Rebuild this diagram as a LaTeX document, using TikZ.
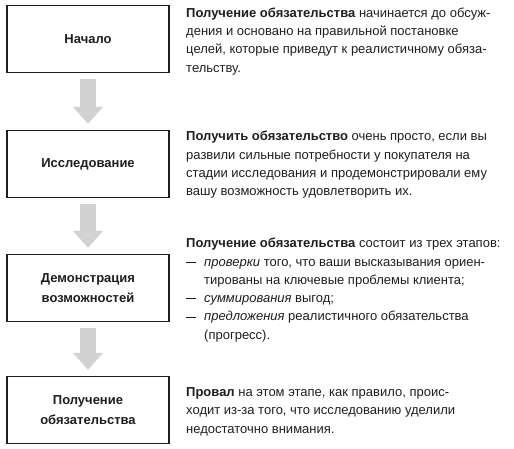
\documentclass[tikz,border=0pt]{standalone}
\usepackage{fontspec}
\setmainfont{Liberation Sans}
\usetikzlibrary{arrows.meta,calc}
\definecolor{ink}{HTML}{1E1E1E}
\definecolor{arrowgray}{HTML}{D2D2D2}
\tikzset{
  stage/.style={draw=ink, line width=1.3pt, minimum width=162pt, minimum height=67pt,
    align=center, font=\fontsize{13}{20.5}\selectfont\bfseries, text=ink, inner sep=0pt},
  flowarrow/.style={arrowgray, line width=16pt, -{Triangle[width=29pt,length=17pt]}},
  desc/.style={anchor=north west, align=left, inner sep=0pt, text=ink,
    font=\fontsize{13}{18.3}\selectfont}
}
\newcommand{\dashitem}{\makebox[18pt][l]{\rule[3.6pt]{9.5pt}{0.8pt}}}
\newcommand{\dashindent}{\hspace*{18pt}}
\begin{document}
\begin{tikzpicture}[x=1pt,y=-1pt]
\useasboundingbox (0,0) rectangle (514,449);
\node[stage] (b1) at (88,39) {Начало};
\node[stage] (b2) at (88,164) {Исследование};
\node[stage] (b3) at (88,288) {Демонстрация\\возможностей};
\node[stage] (b4) at (88,410) {Получение\\обязательства};
\draw[flowarrow] ($(b1.south)+(0,6)$) -- ($(b2.north)+(0,-6)$);
\draw[flowarrow] ($(b2.south)+(0,6)$) -- ($(b3.north)+(0,-6)$);
\draw[flowarrow] ($(b3.south)+(0,6)$) -- ($(b4.north)+(0,-6)$);
\node[desc] (t1) at (186,7.5) {\textbf{Получение обязательства} начинается до обсуж-\\
дения и основано на правильной постановке\\
целей, которые приведут к реалистичному обяза-\\
тельству.};
\node[desc] (t2) at (186,131) {\textbf{Получить обязательство} очень просто, если вы\\
развили сильные потребности у покупателя на\\
стадии исследования и продемонстрировали ему\\
вашу возможность удовлетворить их.};
\node[desc] (t3) at (186,238) {\textbf{Получение обязательства} состоит из трех этапов:\\
\dashitem\textit{проверки} того, что ваши высказывания ориен-\\
\dashindent тированы на ключевые проблемы клиента;\\
\dashitem\textit{суммирования} выгод;\\
\dashitem\textit{предложения} реалистичного обязательства\\
\dashindent (прогресс).};
\node[desc] (t4) at (186,387.5) {\textbf{Провал} на этом этапе, как правило, проис-\\
ходит из-за того, что исследованию уделили\\
недостаточно внимания.};
\end{tikzpicture}
\end{document}
